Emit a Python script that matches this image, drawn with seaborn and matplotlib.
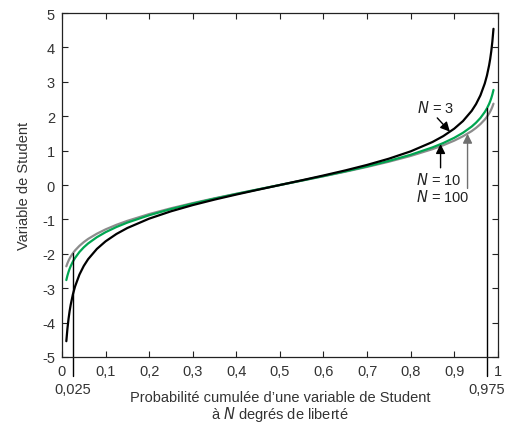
import matplotlib
matplotlib.use("Agg")
import matplotlib.pyplot as plt
import seaborn as sns
import pandas as pd

# Cumulative probability and Student quantiles for N = 3, 10, 100 degrees of freedom
prob = [0.01, 0.0125, 0.015, 0.0175, 0.02, 0.025, 0.03, 0.04, 0.05, 0.06, 0.08,
        0.10, 0.125, 0.15, 0.20, 0.25, 0.30, 0.35, 0.40, 0.45, 0.50,
        0.55, 0.60, 0.65, 0.70, 0.75, 0.80, 0.85, 0.875, 0.90, 0.92,
        0.94, 0.95, 0.96, 0.97, 0.975, 0.98, 0.9825, 0.985, 0.9875, 0.99]

t_n3 = [-4.541, -4.178, -3.896, -3.668, -3.482, -3.182, -2.951, -2.605, -2.353, -2.156, -1.859,
        -1.638, -1.423, -1.250, -0.978, -0.765, -0.584, -0.424, -0.277, -0.137, 0.0,
        0.137, 0.277, 0.424, 0.584, 0.765, 0.978, 1.250, 1.423, 1.638, 1.859,
        2.156, 2.353, 2.605, 2.951, 3.182, 3.482, 3.668, 3.896, 4.178, 4.541]

t_n10 = [-2.764, -2.634, -2.527, -2.437, -2.359, -2.228, -2.121, -1.948, -1.812, -1.699, -1.518,
         -1.372, -1.221, -1.093, -0.879, -0.700, -0.542, -0.397, -0.260, -0.129, 0.0,
         0.129, 0.260, 0.397, 0.542, 0.700, 0.879, 1.093, 1.221, 1.372, 1.518,
         1.699, 1.812, 1.948, 2.121, 2.228, 2.359, 2.437, 2.527, 2.634, 2.764]

t_n100 = [-2.364, -2.276, -2.202, -2.137, -2.081, -1.984, -1.902, -1.769, -1.660, -1.567, -1.416,
          -1.290, -1.157, -1.042, -0.845, -0.677, -0.526, -0.386, -0.254, -0.126, 0.0,
          0.126, 0.254, 0.386, 0.526, 0.677, 0.845, 1.042, 1.157, 1.290, 1.416,
          1.567, 1.660, 1.769, 1.902, 1.984, 2.081, 2.137, 2.202, 2.276, 2.364]

series_names = ["N = 100", "N = 10", "N = 3"]
series_colors = ["#8c8c8c", "#00a651", "#000000"]

x_ticks = [0, 0.1, 0.2, 0.3, 0.4, 0.5, 0.6, 0.7, 0.8, 0.9, 1.0]
x_tick_labels = ["0", "0,1", "0,2", "0,3", "0,4", "0,5", "0,6", "0,7", "0,8", "0,9", "1"]
y_ticks = [-5, -4, -3, -2, -1, 0, 1, 2, 3, 4, 5]

df = pd.concat([
    pd.DataFrame({"p": prob, "t": t_n100, "serie": "N = 100"}),
    pd.DataFrame({"p": prob, "t": t_n10, "serie": "N = 10"}),
    pd.DataFrame({"p": prob, "t": t_n3, "serie": "N = 3"}),
], ignore_index=True)

sns.set_style("ticks")
plt.rcParams["font.family"] = ["Liberation Sans", "DejaVu Sans"]

FS = 10.5

fig = plt.figure(figsize=(5.08, 4.27), dpi=100)
ax = fig.add_axes([0.122, 0.1616, 0.858, 0.8056])

sns.lineplot(data=df, x="p", y="t", hue="serie", hue_order=series_names,
             palette=dict(zip(series_names, series_colors)), linewidth=1.6,
             sort=False, legend=False, ax=ax)

ax.set_xlim(0, 1)
ax.set_ylim(-5, 5)
ax.set_xticks(x_ticks)
ax.set_xticklabels(x_tick_labels)
ax.set_yticks(y_ticks)
ax.set_yticklabels([str(v) for v in y_ticks])
ax.tick_params(direction="in", length=4, width=0.8, top=True, right=True,
               labelsize=FS, colors="#222222", labelcolor="#333333", pad=5)
for s in ax.spines.values():
    s.set_linewidth(0.9)
    s.set_color("#222222")

ax.set_ylabel("Variable de Student", fontsize=FS, color="#333333", labelpad=8)
ax.set_xlabel("")

# two-line x-axis title, centred under the plotting area
xc = 0.122 + 0.858 / 2
fig.text(xc, 1 - 398 / 427, "Probabilité cumulée d\u2019une variable de Student",
         ha="center", va="center", fontsize=FS, color="#333333")
fig.text(xc, 1 - 415 / 427, "à $\\it{N}$ degrés de liberté",
         ha="center", va="center", fontsize=FS, color="#333333")

# 2.5 % and 97.5 % markers
ax.plot([0.025, 0.025], [-5.55, -1.984], color="black", lw=1.0, clip_on=False)
ax.plot([0.975, 0.975], [-5.55, 2.228], color="black", lw=1.0, clip_on=False)
ax.text(0.025, -5.93, "0,025", ha="center", va="center", fontsize=FS, color="#333333")
ax.text(0.975, -5.93, "0,975", ha="center", va="center", fontsize=FS, color="#333333")

arrow = dict(arrowstyle="-|>", mutation_scale=14, lw=1.0, shrinkA=0, shrinkB=0)
ax.annotate("", xy=(0.89, 1.55), xytext=(0.861, 1.95),
            arrowprops=dict(arrow, color="black"))
ax.annotate("", xy=(0.8686, 1.19), xytext=(0.8686, 0.5),
            arrowprops=dict(arrow, color="black"))
ax.annotate("", xy=(0.9305, 1.49), xytext=(0.9305, -0.10),
            arrowprops=dict(arrow, color="#707070"))
ax.text(0.856, 2.28, "$\\it{N}$ = 3", ha="center", va="center", fontsize=FS, color="#222222")
ax.text(0.865, 0.18, "$\\it{N}$ = 10", ha="center", va="center", fontsize=FS, color="#222222")
ax.text(0.874, -0.33, "$\\it{N}$ = 100", ha="center", va="center", fontsize=FS, color="#222222")

fig.savefig("out.png", dpi=100)
